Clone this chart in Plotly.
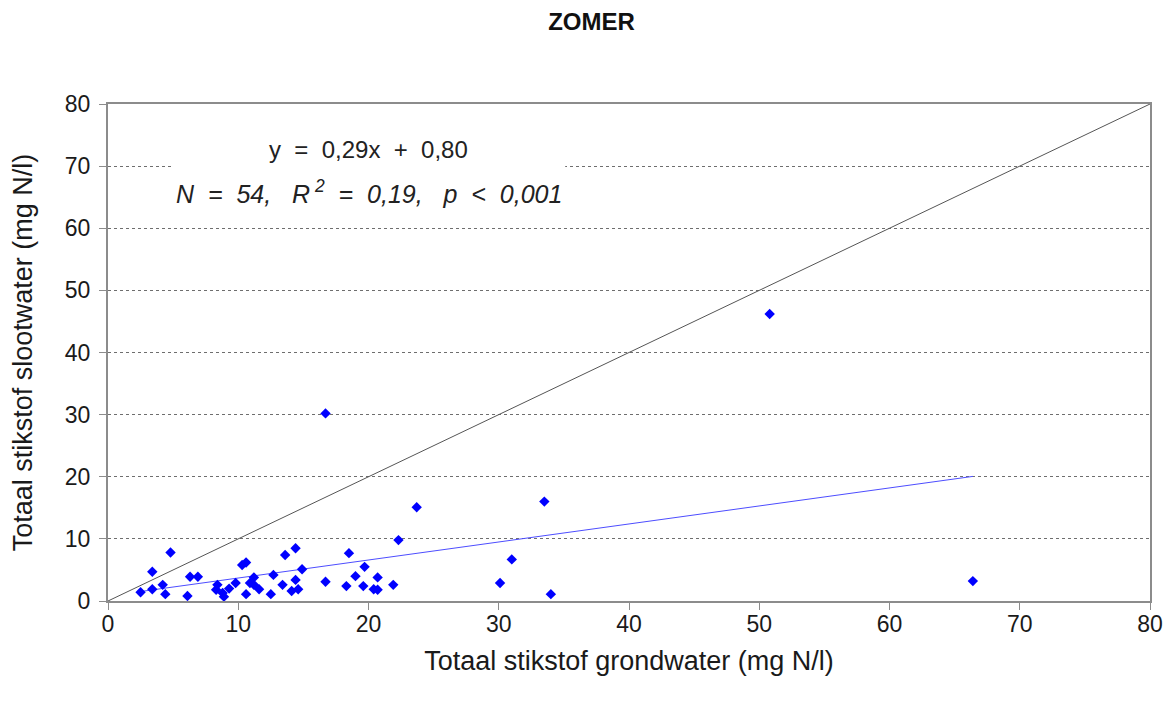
import plotly.graph_objects as go

# Data
grondwater = [2.5, 3.4, 3.4, 4.2, 4.4, 4.8, 6.1, 6.3, 6.9, 8.3, 8.4, 8.8, 8.9, 9.3, 9.8,
              10.3, 10.6, 10.6, 10.9, 11.2, 11.2, 11.6, 12.5, 12.7, 13.6, 14.4, 13.4, 14.9,
              14.4, 14.1, 14.6, 16.7, 18.5, 18.3, 19.0, 22.3, 19.7, 20.7, 19.6, 20.4, 20.7,
              21.9, 23.7, 33.5, 31.0, 30.1, 34.0, 66.4, 16.7, 50.8]
slootwater = [1.4, 4.7, 1.9, 2.6, 1.1, 7.8, 0.8, 3.9, 3.9, 1.8, 2.6, 1.3, 0.7, 2.0, 2.9,
              5.8, 6.2, 1.1, 2.9, 3.8, 2.6, 1.9, 1.1, 4.2, 7.4, 8.5, 2.6, 5.1,
              3.4, 1.6, 1.9, 3.1, 7.7, 2.4, 4.0, 9.8, 5.5, 3.8, 2.4, 1.9, 1.8,
              2.6, 15.1, 16.0, 6.7, 2.9, 1.1, 3.2, 30.2, 46.2]

slope = 0.29
intercept = 0.80
fit_x = [2.5, 66.4]
diag = [0, 80]
tick_vals = [0, 10, 20, 30, 40, 50, 60, 70, 80]

fit_y = [slope * v + intercept for v in fit_x]

font_family = "Liberation Sans, Arial, sans-serif"

fig = go.Figure()
fig.add_trace(go.Scatter(x=diag, y=diag, mode="lines",
                         line=dict(color="#555555", width=1), showlegend=False,
                         hoverinfo="skip"))
fig.add_trace(go.Scatter(x=fit_x, y=fit_y, mode="lines",
                         line=dict(color="#4d4dff", width=1), showlegend=False,
                         hoverinfo="skip"))
fig.add_trace(go.Scatter(x=grondwater, y=slootwater, mode="markers",
                         marker=dict(symbol="diamond", size=8, color="#0000ff"),
                         showlegend=False))

# page body has an 8px margin, so the figure is sized to fit the window
fig.update_layout(
    width=1167, height=698,
    margin=dict(l=100, r=25, t=96, b=105),
    plot_bgcolor="white", paper_bgcolor="white",
    font=dict(family=font_family, size=23, color="#1a1a1a"),
    title=dict(text="<b>ZOMER</b>", x=0.5, xanchor="center", y=0.98, yanchor="middle",
               font=dict(size=24, color="#111111")),
    xaxis=dict(range=[0, 80], tickvals=tick_vals, showgrid=False, zeroline=False,
               showline=True, linecolor="#8c8c8c", linewidth=2, mirror=True,
               ticks="outside", ticklen=7, tickcolor="#8c8c8c", ticklabelstandoff=-6,
               tickfont=dict(size=23),
               title=dict(text="Totaal stikstof grondwater (mg N/l)", standoff=16,
                          font=dict(size=27))),
    yaxis=dict(range=[0, 80], tickvals=tick_vals, showgrid=True, gridcolor="#6e6e6e",
               griddash="dot", gridwidth=1, zeroline=False,
               showline=True, linecolor="#8c8c8c", linewidth=2, mirror=True,
               ticks="outside", ticklen=7, tickcolor="#8c8c8c", ticklabelstandoff=4,
               tickfont=dict(size=23),
               title=dict(text="Totaal stikstof slootwater (mg N/l)", standoff=24,
                          font=dict(size=27))),
)

# white background behind the regression label
fig.add_shape(type="rect", xref="x", yref="y", x0=4.9, x1=35.1, y0=64.0, y1=75.5,
              fillcolor="white", line=dict(width=0), layer="above")

fig.add_annotation(
    x=20.0, y=72.6, xref="x", yref="y", xanchor="center", yanchor="middle",
    text="y  =  0,29x  +  0,80", showarrow=False,
    font=dict(size=24, color="#222222"),
)
fig.add_annotation(
    x=20.0, y=65.8, xref="x", yref="y", xanchor="center", yanchor="middle",
    text="<i>N  =  54,   R<sup> 2</sup>  =  0,19,   p  &lt;  0,001</i>", showarrow=False,
    font=dict(size=25, color="#222222"),
)

fig.write_html("out.html")
